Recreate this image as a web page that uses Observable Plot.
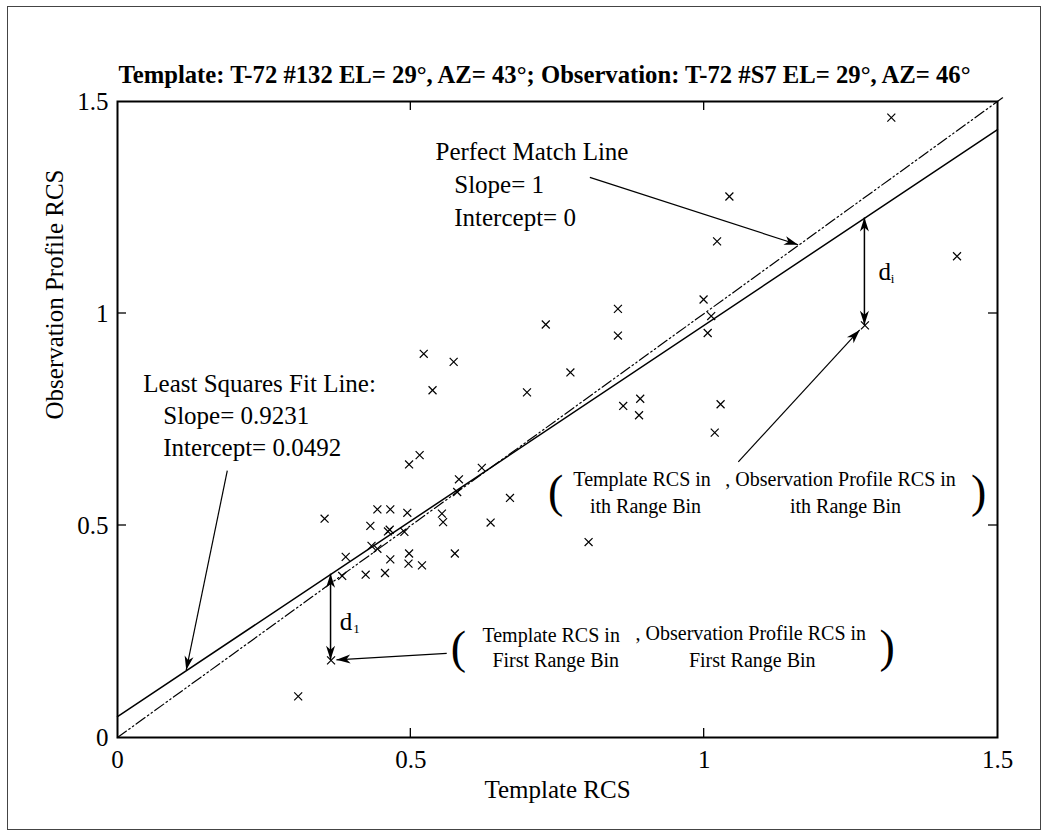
<!DOCTYPE html>
<html><head><meta charset="utf-8">
<script src="https://cdn.jsdelivr.net/npm/d3@7"></script>
<script src="https://cdn.jsdelivr.net/npm/@observablehq/plot@0.6"></script>
<style>
body{margin:0;background:#fff;}
#wrap{position:relative;width:1047px;height:831px;overflow:hidden;}
#border{position:absolute;left:7px;top:6px;width:1034px;height:824px;border:1px solid #444;box-sizing:border-box;pointer-events:none;}
#chart{position:absolute;left:0;top:0;}
svg text{font-family:"Liberation Serif","Times New Roman",serif;}
</style></head><body>
<div id="wrap"><div id="chart"></div><div id="border"></div></div>
<script>
// ---- data ----
const templateRCS = [0.308,0.353,0.364,0.383,0.389,0.423,0.431,0.433,0.443,0.443,0.456,0.461,0.464,0.465,0.465,0.489,0.494,0.497,0.496,0.497,0.515,0.519,0.522,0.537,0.553,0.555,0.573,0.575,0.579,0.582,0.621,0.636,0.669,0.698,0.730,0.772,0.803,0.853,0.853,0.862,0.889,0.891,0.999,1.006,1.012,1.018,1.022,1.028,1.043,1.274,1.319,1.431];
const observationRCS = [0.097,0.516,0.182,0.381,0.426,0.384,0.499,0.452,0.538,0.445,0.388,0.486,0.490,0.538,0.420,0.485,0.530,0.434,0.410,0.644,0.666,0.406,0.905,0.819,0.528,0.508,0.886,0.434,0.579,0.609,0.636,0.507,0.565,0.814,0.974,0.861,0.461,1.011,0.948,0.782,0.760,0.799,1.033,0.954,0.994,0.719,1.170,0.786,1.276,0.972,1.462,1.135];
const fitSlope = 0.9231, fitIntercept = 0.0492;
const perfectSlope = 1, perfectIntercept = 0;
const firstBinIndex = 2;   // point labelled "First Range Bin"
const ithBinIndex = 49;    // point labelled "ith Range Bin"
const xTicks = [0, 0.5, 1, 1.5];
const yTicks = [0, 0.5, 1, 1.5];
const titleText = "Template: T-72 #132 EL= 29°, AZ= 43°; Observation: T-72 #S7 EL= 29°, AZ= 46°";
const xLabel = "Template RCS";
const yLabel = "Observation Profile RCS";

// ---- annotation layout (data units) ----
const bigNotes = [
  {t:"Perfect Match Line", x:0.542, y:1.380},
  {t:"Slope= 1", x:0.574, y:1.304},
  {t:"Intercept= 0", x:0.574, y:1.226},
  {t:"Least Squares Fit Line:", x:0.044, y:0.833},
  {t:"Slope= 0.9231", x:0.078, y:0.759},
  {t:"Intercept= 0.0492", x:0.078, y:0.682},
  {t:"d", x:1.297, y:1.097},
  {t:"d", x:0.379, y:0.272}
];
const subNotes = [
  {t:"i", x:1.318, y:1.082},
  {t:"1", x:0.402, y:0.257}
];
const smallStart = [
  {t:"Template RCS in", x:0.777, y:0.608},
  {t:", Observation Profile RCS in", x:1.036, y:0.608},
  {t:"Template RCS in", x:0.622, y:0.241},
  {t:", Observation Profile RCS in", x:0.883, y:0.245}
];
const smallMid = [
  {t:"ith Range Bin", x:0.900, y:0.545},
  {t:"ith Range Bin", x:1.241, y:0.545},
  {t:"First Range Bin", x:0.747, y:0.182},
  {t:"First Range Bin", x:1.082, y:0.182}
];
const parens = [
  {t:"(", x:0.747, y:0.578},
  {t:")", x:1.468, y:0.578},
  {t:"(", x:0.581, y:0.210},
  {t:")", x:1.312, y:0.212}
];
const pointers = [
  {x1:0.806, y1:1.320, x2:1.161, y2:1.161},
  {x1:0.188, y1:0.628, x2:0.118, y2:0.158},
  {x1:1.059, y1:0.649, x2:1.266, y2:0.960},
  {x1:0.562, y1:0.197, x2:0.374, y2:0.182}
];

const points = templateRCS.map((x, i) => ({x, y: observationRCS[i]}));
const fitAt = x => fitSlope * x + fitIntercept;
const fitLine = [0, 1.5].map(x => ({x, y: fitAt(x)}));
const perfectLine = [0, 1.51].map(x => ({x, y: perfectSlope * x + perfectIntercept}));
const residuals = [firstBinIndex, ithBinIndex].map(i => ({x1: templateRCS[i], y1: fitAt(templateRCS[i]), x2: templateRCS[i], y2: observationRCS[i]}));

function headPath(tx, ty, fx, fy, len = 14, half = 4.5) {
  const a = Math.atan2(ty - fy, tx - fx);
  const c = Math.cos(a), s = Math.sin(a);
  const bx = tx - len * c, by = ty - len * s;
  const mx = tx - len * 0.72 * c, my = ty - len * 0.72 * s;
  return `M${tx},${ty}L${bx - half * s},${by + half * c}L${mx},${my}L${bx + half * s},${by - half * c}Z`;
}

const decor = (index, scales) => {
  const X = scales.x, Y = scales.y;
  const g = d3.create("svg:g").attr("fill", "none").attr("stroke", "black");
  const t = 9;
  const [x0, x1] = [X(0), X(1.5)], [y0, y1] = [Y(0), Y(1.5)];
  for (const v of xTicks.slice(1, -1)) {
    g.append("line").attr("x1", X(v)).attr("x2", X(v)).attr("y1", y0).attr("y2", y0 - t).attr("stroke-width", 1.3);
    g.append("line").attr("x1", X(v)).attr("x2", X(v)).attr("y1", y1).attr("y2", y1 + t).attr("stroke-width", 1.3);
  }
  for (const v of yTicks.slice(1, -1)) {
    g.append("line").attr("y1", Y(v)).attr("y2", Y(v)).attr("x1", x0).attr("x2", x0 + t).attr("stroke-width", 1.3);
    g.append("line").attr("y1", Y(v)).attr("y2", Y(v)).attr("x1", x1).attr("x2", x1 - t).attr("stroke-width", 1.3);
  }
  for (const p of pointers) {
    const ax = X(p.x1), ay = Y(p.y1), bx = X(p.x2), by = Y(p.y2);
    g.append("line").attr("x1", ax).attr("y1", ay).attr("x2", bx).attr("y2", by).attr("stroke-width", 1.2);
    g.append("path").attr("d", headPath(bx, by, ax, ay)).attr("fill", "black").attr("stroke", "none");
  }
  for (const r of residuals) {
    const ax = X(r.x1), ay = Y(r.y1), bx = X(r.x2), by = Y(r.y2);
    g.append("line").attr("x1", ax).attr("y1", ay).attr("x2", bx).attr("y2", by).attr("stroke-width", 1.5);
    g.append("path").attr("d", headPath(bx, by, ax, ay)).attr("fill", "black").attr("stroke", "none");
    g.append("path").attr("d", headPath(ax, ay, bx, by)).attr("fill", "black").attr("stroke", "none");
  }
  return g.node();
};

const chart = Plot.plot({
  width: 1047,
  height: 831,
  marginLeft: 117,
  marginRight: 50,
  marginTop: 101,
  marginBottom: 94,
  x: {domain: [0, 1.5]},
  y: {domain: [0, 1.5]},
  style: {fontFamily: "Liberation Serif, Times New Roman, serif", background: "white", color: "black"},
  marks: [
    Plot.axisX({ticks: xTicks, tickSize: 0, tickPadding: 13, fontSize: 25, tickFormat: d => String(d), label: null}),
    Plot.axisY({ticks: yTicks, tickSize: 0, tickPadding: 9, fontSize: 25, tickFormat: d => String(d), label: null}),
    Plot.text([xLabel], {frameAnchor: "bottom", dy: 60, fontSize: 25}),
    Plot.text([yLabel], {frameAnchor: "left", dx: -63, rotate: -90, fontSize: 25}),
    Plot.text([titleText], {frameAnchor: "top", dy: -36, dx: -13, fontSize: 25, fontWeight: "bold"}),
    Plot.line(perfectLine, {x: "x", y: "y", stroke: "black", strokeWidth: 1.2, strokeDasharray: "11,3,1.5,3,1.5,3"}),
    Plot.line(fitLine, {x: "x", y: "y", stroke: "black", strokeWidth: 1.5}),
    Plot.dot(points, {x: "x", y: "y", symbol: "times", r: 3.7, stroke: "black", strokeWidth: 1.2}),
    Plot.text(bigNotes, {x: "x", y: "y", text: "t", textAnchor: "start", fontSize: 25}),
    Plot.text(subNotes, {x: "x", y: "y", text: "t", textAnchor: "start", fontSize: 13}),
    Plot.text(smallStart, {x: "x", y: "y", text: "t", textAnchor: "start", fontSize: 20}),
    Plot.text(smallMid, {x: "x", y: "y", text: "t", textAnchor: "middle", fontSize: 20}),
    Plot.text(parens, {x: "x", y: "y", text: "t", textAnchor: "middle", fontSize: 46}),
    decor,
    Plot.frame({stroke: "black", strokeWidth: 2})
  ]
});
document.getElementById("chart").appendChild(chart);
for (const el of chart.querySelectorAll("text")) {
  if (el.textContent === titleText) {
    el.setAttribute("textLength", "852");
    el.setAttribute("lengthAdjust", "spacingAndGlyphs");
  }
}
</script>
</body></html>
